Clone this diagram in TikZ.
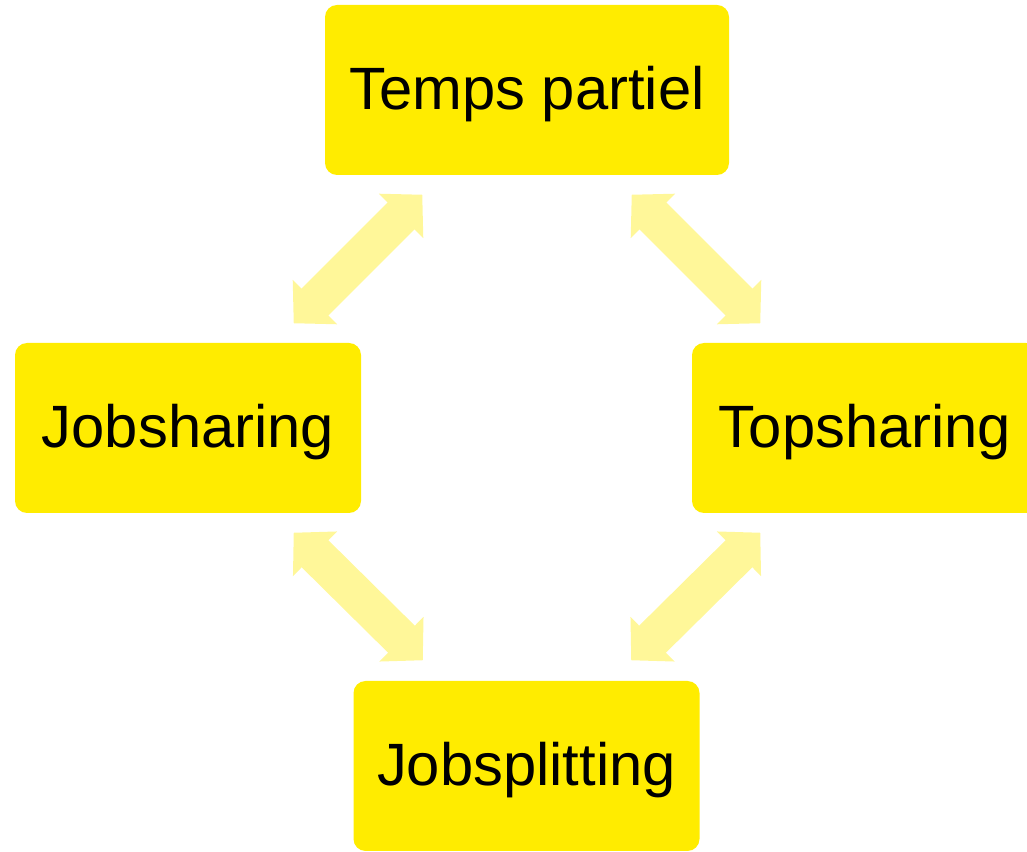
\documentclass[tikz,border=0pt]{standalone}
\usepackage{fontspec}
\setmainfont{Liberation Sans}
\usetikzlibrary{arrows.meta}
\definecolor{boxyellow}{RGB}{255,236,0}
\definecolor{linkyellow}{RGB}{255,247,153}

\begin{document}
\begin{tikzpicture}[
		box/.style={fill=boxyellow, rounded corners=0.12cm, minimum width=3.46cm, minimum height=1.70cm, inner sep=0pt, text height=0.56cm, text depth=0.16cm, font=\fontsize{17}{20}\selectfont},
		link/.style={linkyellow, line width=0.38cm, {Triangle[width=0.61cm, length=0.30cm]}-{Triangle[width=0.61cm, length=0.30cm]}},
	]
		\useasboundingbox (0,0) rectangle (10.27,8.51);
		
		\node[box, minimum width=4.04cm] (tp) at (5.27,7.61) {Temps partiel};
		\node[box] (jsh) at (1.88,4.23) {Jobsharing};
		\node[box] (tsh) at (8.65,4.23) {Topsharing};
		\node[box] (jsp) at (5.265,0.85) {Jobsplitting};
		
		\draw[link] ([shift={(-0.68,0.19)}]jsh.north east) -- ([shift={(0.98,-0.19)}]tp.south west);
		\draw[link] ([shift={(-0.98,-0.19)}]tp.south east) -- ([shift={(0.69,0.19)}]tsh.north west);
		\draw[link] ([shift={(-0.68,-0.19)}]jsh.south east) -- ([shift={(0.70,0.20)}]jsp.north west);
		\draw[link] ([shift={(-0.69,0.20)}]jsp.north east) -- ([shift={(0.69,-0.19)}]tsh.south west);
	\end{tikzpicture}
\end{document}
